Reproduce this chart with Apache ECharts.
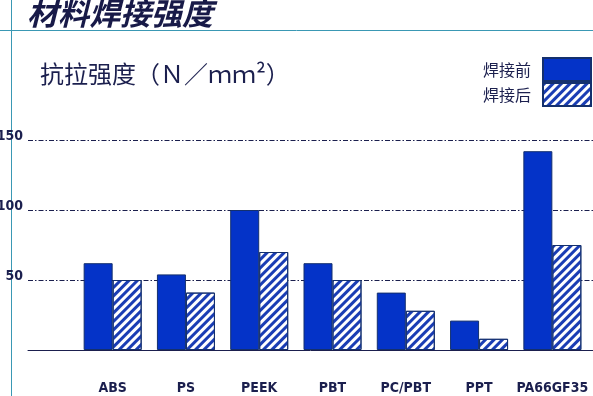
<!DOCTYPE html>
<html>
<head>
<meta charset="utf-8">
<script src="https://cdn.jsdelivr.net/npm/echarts@6/dist/echarts.min.js"></script>
<style>
html,body{margin:0;padding:0;background:#fff;}
#c{width:593px;height:396px;}
</style>
</head>
<body>
<div id="c"></div>
<script>
var categories = ['ABS', 'PS', 'PEEK', 'PBT', 'PC/PBT', 'PPT', 'PA66GF35'];
var seriesNames = ['焊接前', '焊接后'];
var beforeWeld = [62, 54, 100, 62, 41, 21, 142];
var afterWeld = [50, 41, 70, 50, 28, 8, 75];
var yTicks = [50, 100, 150];

var navy = '#1b1f4e';
var teal = '#3a98b4';
var solidBlue = '#0433c8';
var edge = '#14306e';
var narrow = "'DejaVu Sans Condensed', 'Liberation Sans Narrow', sans-serif";
var cjk = "'Noto Sans CJK SC', 'Noto Sans CJK JP', sans-serif";

var chart = echarts.init(document.getElementById('c'), null, {renderer: 'canvas'});
chart.setOption({
  animation: false,
  backgroundColor: '#ffffff',
  graphic: [
    {type: 'line', shape: {x1: 0, y1: 30.5, x2: 593, y2: 30.5}, style: {stroke: teal, lineWidth: 1}, z: 0},
    {type: 'line', shape: {x1: 11.5, y1: 0, x2: 11.5, y2: 396}, style: {stroke: teal, lineWidth: 1}, z: 0},
    {type: 'text', left: 27, top: -2, style: {text: '材料焊接强度', font: 'italic bold 31px ' + cjk, fill: '#181a48'}},
    {type: 'text', left: 40, top: 62, style: {text: '抗拉强度（Ｎ／ｍｍ²）', font: '24px ' + cjk, fill: navy}}
  ],
  legend: {
    orient: 'vertical',
    right: 1,
    top: 57,
    padding: 0,
    align: 'right',
    itemWidth: 48,
    itemHeight: 23,
    itemGap: 0,
    icon: 'rect',
    data: seriesNames,
    textStyle: {fontFamily: cjk, fontSize: 16, color: navy, padding: [0, 7, 0, 0]}
  },
  grid: [
    {left: 28, right: 0, top: 140, bottom: 46, outerBoundsMode: 'none', containLabel: false},
    {left: 76, right: 4, top: 140, bottom: 46, outerBoundsMode: 'none', containLabel: false}
  ],
  xAxis: [
    {
      gridIndex: 0, type: 'category', data: categories,
      axisLine: {show: true, lineStyle: {color: navy, width: 1}},
      axisTick: {show: false}, axisLabel: {show: false}, splitLine: {show: false}
    },
    {
      gridIndex: 1, type: 'category', data: categories,
      axisLine: {show: false}, axisTick: {show: false},
      axisLabel: {margin: 31, fontFamily: narrow, fontWeight: 'bold', fontSize: 14, color: navy, interval: 0}
    }
  ],
  yAxis: [
    {
      gridIndex: 0, type: 'value', min: 0, max: 150, interval: 50,
      axisLine: {show: false}, axisTick: {show: false},
      axisLabel: {
        margin: 5, fontFamily: narrow, fontWeight: 'bold', fontSize: 14, color: navy,
        verticalAlign: 'bottom', customValues: yTicks, padding: [0, 0, -3, 0]
      },
      splitLine: {show: true, lineStyle: {color: navy, width: 1, type: [5, 2, 1.5, 2]}}
    },
    {
      gridIndex: 1, type: 'value', min: 0, max: 150,
      show: false, splitLine: {show: false}
    }
  ],
  series: [
    {
      name: seriesNames[0], type: 'bar', xAxisIndex: 1, yAxisIndex: 1,
      data: beforeWeld, barWidth: 29, barGap: '0%',
      itemStyle: {color: solidBlue, borderColor: edge, borderWidth: 1}
    },
    {
      name: seriesNames[1], type: 'bar', xAxisIndex: 1, yAxisIndex: 1,
      data: afterWeld, barWidth: 29, barGap: '0%',
      itemStyle: {
        color: '#ffffff', borderColor: edge, borderWidth: 1,
        decal: {
          symbol: 'rect', symbolSize: 1, color: '#1a3db4',
          dashArrayX: [1, 0], dashArrayY: [2.5, 2.5], rotation: -Math.PI / 4
        }
      }
    }
  ]
});
</script>
</body>
</html>
